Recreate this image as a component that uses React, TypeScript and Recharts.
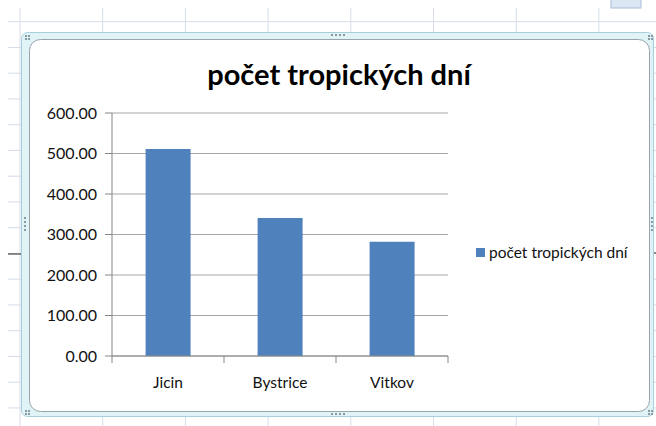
import { Bar, BarChart, CartesianGrid, XAxis, YAxis } from 'recharts'

const categories = ['Jicin', 'Bystrice', 'Vitkov']
const tropicalDays = [511, 341, 282]
const yTicks = [0, 100, 200, 300, 400, 500, 600]
const seriesName = 'počet tropických dní'
const chartTitle = 'počet tropických dní'

const data = categories.map((name, i) => ({ name, value: tropicalDays[i] }))

const FONT = 'Lato, "Open Sans", sans-serif'
const BAR_COLOR = '#4f81bd'
const AXIS_COLOR = '#868686'

// plot box inside the 656x426 picture
const PLOT_LEFT = 112
const PLOT_RIGHT = 448
const PLOT_TOP = 113
const PLOT_BOTTOM = 356
const Y_AXIS_W = 60
const X_AXIS_H = 40
const BAND = (PLOT_RIGHT - PLOT_LEFT) / categories.length

function CategoryTick(props: any) {
  const { x, y, payload, index } = props
  const half = BAND / 2
  return (
    <g>
      <line x1={x - half} x2={x - half} y1={y} y2={y + 7} stroke={AXIS_COLOR} />
      {index === categories.length - 1 && (
        <line x1={x + half} x2={x + half} y1={y} y2={y + 7} stroke={AXIS_COLOR} />
      )}
      <text x={x} y={y + 32} textAnchor="middle" fontFamily={FONT} fontSize={15.5} fill="#111">
        {payload.value}
      </text>
    </g>
  )
}

function SheetBackground() {
  const cols = Array.from({ length: 8 }, (_, k) => 20 + 82.7 * k)
  const rows = Array.from({ length: 16 }, (_, k) => 21.7 + 25.75 * k)
  return (
    <svg width={656} height={426} style={{ position: 'absolute', left: 0, top: 0 }}>
      <rect x={0} y={0} width={656} height={426} fill="#fff" />
      {cols.map((cx) => (
        <line key={'c' + cx} x1={cx} x2={cx} y1={8} y2={426} stroke="#d6dde8" />
      ))}
      {rows.map((ry) => (
        <line key={'r' + ry} x1={8} x2={656} y1={ry} y2={ry} stroke="#d6dde8" />
      ))}
      <rect x={611} y={-1} width={30} height={9} fill="#dce6f4" stroke="#a9bcd6" />
      <line x1={8} x2={28} y1={254} y2={254} stroke="#222" />
      <line x1={648} x2={656} y1={253} y2={253} stroke="#222" />
      {/* selected chart frame */}
      <rect x={21.5} y={32.5} width={632} height={384} rx={6} fill="#e0f3f7" stroke="#a9cfdc" />
      <rect x={29.5} y={39.5} width={620} height={372} rx={11} fill="#fff" stroke="#9aa3a8" />
      {[0, 1, 2, 3].map((k) => (
        <g key={'h' + k} fill="#8a9aa3">
          <rect x={331 + k * 4} y={34} width={2} height={2} />
          <rect x={331 + k * 4} y={413} width={2} height={2} />
          <rect x={24} y={217 + k * 4} width={2} height={2} />
          <rect x={651} y={217 + k * 4} width={2} height={2} />
        </g>
      ))}
      {[
        [25, 35],
        [25, 410],
        [648, 35],
        [648, 410],
      ].map(([hx, hy]) => (
        <g key={'k' + hx + hy} fill="#8a9aa3">
          <rect x={hx} y={hy} width={2} height={2} />
          <rect x={hx + 3} y={hy} width={2} height={2} />
          <rect x={hx} y={hy + 3} width={2} height={2} />
          <rect x={hx + 3} y={hy + 3} width={2} height={2} />
        </g>
      ))}
      <text x={339} y={85} textAnchor="middle" fontFamily={FONT} fontWeight={700} fontSize={29} fill="#000">
        {chartTitle}
      </text>
    </svg>
  )
}

function LegendBox() {
  return (
    <div
      style={{
        position: 'absolute',
        left: 476,
        top: 243,
        display: 'flex',
        alignItems: 'center',
        fontFamily: FONT,
        fontSize: 15.5,
        color: '#111',
        whiteSpace: 'nowrap',
      }}
    >
      <span style={{ display: 'inline-block', width: 9, height: 9, background: BAR_COLOR, marginRight: 4 }} />
      {seriesName}
    </div>
  )
}

export default function App() {
  return (
    <div style={{ position: 'absolute', left: 0, top: 0, width: 656, height: 426, overflow: 'hidden' }}>
      <SheetBackground />
      <div style={{ position: 'absolute', left: 0, top: 0 }}>
        <BarChart
          width={656}
          height={426}
          data={data}
          barCategoryGap="30%"
          margin={{
            top: PLOT_TOP,
            left: PLOT_LEFT - Y_AXIS_W,
            right: 656 - PLOT_RIGHT,
            bottom: 426 - PLOT_BOTTOM - X_AXIS_H,
          }}
        >
          <CartesianGrid horizontal vertical={false} stroke="#a6a6a6" strokeWidth={1} />
          <YAxis
            width={Y_AXIS_W}
            domain={[0, 600]}
            ticks={yTicks}
            tickFormatter={(v: number) => v.toFixed(2)}
            tickSize={7}
            tickMargin={8}
            stroke={AXIS_COLOR}
            tick={{ fontFamily: FONT, fontSize: 16, fill: '#111' }}
          />
          <XAxis
            dataKey="name"
            height={X_AXIS_H}
            stroke={AXIS_COLOR}
            tickLine={false}
            tickSize={0}
            tickMargin={0}
            tick={<CategoryTick />}
            interval={0}
          />
          <Bar dataKey="value" name={seriesName} fill={BAR_COLOR} isAnimationActive={false} />
        </BarChart>
      </div>
      <LegendBox />
    </div>
  )
}
